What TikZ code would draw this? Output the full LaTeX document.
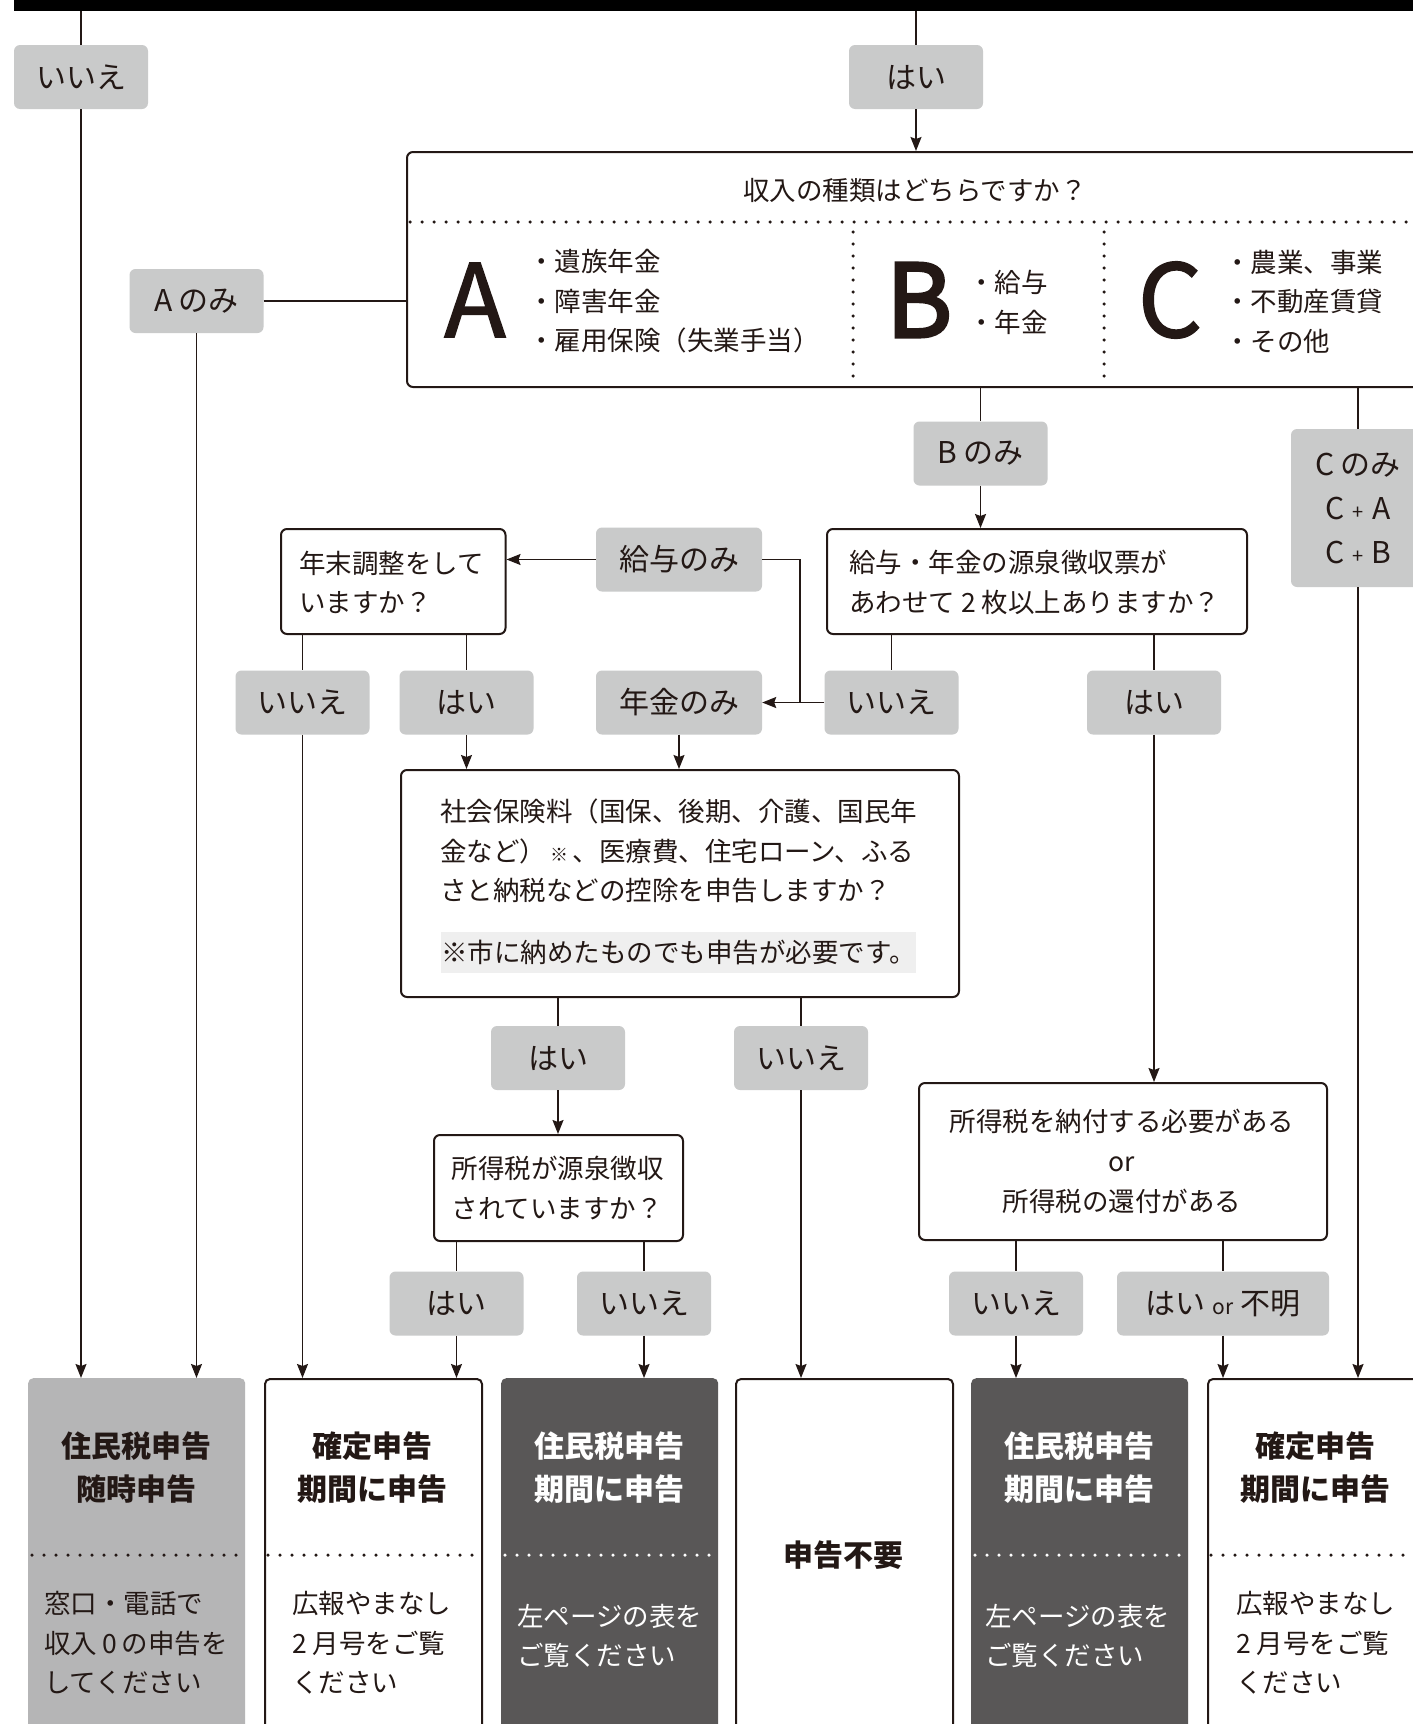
\documentclass[tikz,border=0pt]{standalone}
\usepackage{fontspec}
\setmainfont{Noto Sans CJK JP}
\newfontfamily\bigfont[FakeBold=1.5]{Noto Sans CJK JP}
\newfontfamily\bigBfont[FakeBold=3]{Noto Sans CJK JP}
\usetikzlibrary{arrows.meta}
\definecolor{lab}{HTML}{C9CACA}
\definecolor{gr}{HTML}{B5B5B6}
\definecolor{dk}{HTML}{595757}
\definecolor{notefill}{HTML}{EFEFEF}
\definecolor{ink}{HTML}{231815}
\begin{document}
\begin{tikzpicture}[x=1pt,y=-1pt,
  lbl/.style={fill=lab, rounded corners=6pt, minimum width=134pt, minimum height=64pt, inner sep=0pt, font=\fontsize{30}{40}\selectfont, text=ink},
  qbox/.style={draw=ink, line width=2pt, rounded corners=6pt, fill=white, inner sep=0pt, anchor=north west},
  rbox/.style={rounded corners=5pt, inner sep=0pt, anchor=north west, minimum width=217pt, minimum height=420pt},
  body/.style={font=\fontsize{26.5}{39.5}\selectfont, align=left, inner sep=0pt, text=ink},
  rtitle/.style={font=\fontsize{30}{43}\selectfont\bfseries, align=center, inner sep=0pt},
  big/.style={inner sep=0pt, font=\bigfont\fontsize{101}{101}\selectfont, text=ink},
  conn/.style={draw=ink, line width=1.6pt},
  arr/.style={conn, -{Stealth[length=14pt,width=11pt,inset=2pt]}},
  dotl/.style={line width=3.5pt, line cap=round, dash pattern=on 0pt off 12pt},
]
\useasboundingbox (0,0) rectangle (1413,1724);
\clip (0,0) rectangle (1413,1724);
\fill[white] (0,0) rectangle (1413,1724);

% top bar
\node[fill=black, anchor=north west, minimum width=1399pt, minimum height=11pt, inner sep=0pt] (bar) at (14,0) {};

% question boxes
\node[qbox, minimum width=1040pt, minimum height=235pt] (Q0) at (406,151) {};
\node[qbox, minimum width=224.5pt, minimum height=105pt] (Q1) at (280,528) {};
\node[qbox, minimum width=420pt, minimum height=105pt] (Q2) at (826,528) {};
\node[qbox, minimum width=558pt, minimum height=227pt] (Q3) at (400,769) {};
\node[qbox, minimum width=249pt, minimum height=106pt] (Q4) at (433,1134) {};
\node[qbox, minimum width=408pt, minimum height=157pt] (Q5) at (918,1082) {};

% result boxes
\node[rbox, fill=gr] (R1) at (28,1378) {};
\node[rbox, draw=ink, line width=2pt, fill=white] (R2) at (264,1378) {};
\node[rbox, fill=dk] (R3) at (501,1378) {};
\node[rbox, draw=ink, line width=2pt, fill=white] (R4) at (735,1378) {};
\node[rbox, fill=dk] (R5) at (971,1378) {};
\node[rbox, draw=ink, line width=2pt, fill=white] (R6) at (1207,1378) {};

% labels
\node[lbl] (L1) at (81,77) {いいえ};
\node[lbl] (L2) at (916,77) {はい};
\node[lbl] (L3) at (196.5,301) {A のみ};
\node[lbl] (L4) at (980.5,453.5) {B のみ};
\node[lbl, minimum height=158pt, align=center, font=\fontsize{30}{44}\selectfont] (L5) at (1358,508) {C のみ\\C\hspace{8pt}{\fontsize{20}{20}\selectfont +}\hspace{8pt}A\\C\hspace{8pt}{\fontsize{20}{20}\selectfont +}\hspace{8pt}B};
\node[lbl, minimum width=166pt] (L6) at (679,559.5) {給与のみ};
\node[lbl] (L7) at (302.5,702.5) {いいえ};
\node[lbl] (L8) at (466.5,702.5) {はい};
\node[lbl, minimum width=166pt] (L9) at (679,702.5) {年金のみ};
\node[lbl] (L10) at (891.5,702.5) {いいえ};
\node[lbl] (L11) at (1154,702.5) {はい};
\node[lbl] (L12) at (558,1058) {はい};
\node[lbl] (L13) at (801,1058) {いいえ};
\node[lbl] (L14) at (456.5,1303.5) {はい};
\node[lbl] (L15) at (644,1303.5) {いいえ};
\node[lbl] (L16) at (1016,1303.5) {いいえ};
\node[lbl, minimum width=212pt] (L17) at (1223,1303.5) {はい {\fontsize{21}{21}\selectfont or} 不明};

% texts in Q0
\node[body] (t0) at (915,190) {収入の種類はどちらですか？};
\draw[dotl, draw=ink] (410,222) -- (1413,222);
\draw[dotl, draw=ink] (853,232) -- (853,382);
\draw[dotl, draw=ink] (1104,232) -- (1104,382);
\node[big] (bigA) at (475,300) {A};
\node[body, anchor=west] (lA) at (528,301.5) {・遺族年金\\・障害年金\\・雇用保険（失業手当）};
\node[big, font=\bigBfont\fontsize{101}{101}\selectfont] (bigB) at (919,300) {B};
\node[body, anchor=west] (lB) at (968,302.5) {・給与\\・年金};
\node[big] (bigC) at (1170,300) {C};
\node[body, anchor=west] (lC) at (1224,301.5) {・農業、事業\\・不動産賃貸\\・その他};

% other question texts
\node[body, anchor=west] (t1) at (299,582.5) {年末調整をして\\いますか？};
\node[body, anchor=west] (t2) at (849,582.5) {給与・年金の源泉徴収票が\\あわせて\hspace{6pt}2\hspace{6pt}枚以上ありますか？};
\node[body, anchor=west] (t3) at (440,851) {社会保険料（国保、後期、介護、国民年\\金など）\makebox[26.5pt]{\fontsize{18}{18}\selectfont ※}、医療費、住宅ローン、ふる\\さと納税などの控除を申告しますか？};
\node[body, fill=notefill, minimum height=41pt, anchor=west] (t3n) at (441,952) {※市に納めたものでも申告が必要です。};
\node[body] (t4) at (557.5,1188) {所得税が源泉徴収\\されていますか？};
\node[body, align=center, font=\fontsize{26.5}{40}\selectfont] (t5) at (1122,1161.7) {所得税を納付する必要がある\\or\\所得税の還付がある};

% result texts
\node[rtitle, text=ink] (r1t) at (136.5,1468) {住民税申告\\随時申告};
\node[rtitle, text=ink] (r2t) at (372.5,1468) {確定申告\\期間に申告};
\node[rtitle, text=white] (r3t) at (609,1468) {住民税申告\\期間に申告};
\node[rtitle, text=ink] (r4t) at (843.5,1555) {申告不要};
\node[rtitle, text=white] (r5t) at (1079,1468) {住民税申告\\期間に申告};
\node[rtitle, text=ink] (r6t) at (1315.5,1468) {確定申告\\期間に申告};
\draw[dotl, draw=ink] (32,1555) -- (242,1555);
\draw[dotl, draw=ink] (268,1555) -- (478,1555);
\draw[dotl, draw=white] (505,1555) -- (715,1555);
\draw[dotl, draw=white] (975,1555) -- (1185,1555);
\draw[dotl, draw=ink] (1211,1555) -- (1413,1555);
\node[body, anchor=west] (r1b) at (44,1643) {窓口・電話で\\収入\hspace{5pt}0\hspace{5pt}の申告を\\してください};
\node[body, anchor=west] (r2b) at (292,1643) {広報やまなし\\2\hspace{6pt}月号をご覧\\ください};
\node[body, anchor=west, text=white] (r3b) at (517,1636) {左ページの表を\\ご覧ください};
\node[body, anchor=west, text=white] (r5b) at (985,1636) {左ページの表を\\ご覧ください};
\node[body, anchor=west] (r6b) at (1236,1643) {広報やまなし\\2\hspace{6pt}月号をご覧\\ください};

% connectors
\draw[conn] (bar.south -| L1) -- (L1.north);
\draw[arr] (L1.south) -- (L1.south |- R1.north);
\draw[conn] (bar.south -| L2) -- (L2.north);
\draw[arr] (L2.south) -- (L2.south |- Q0.north);
\draw[conn] (L3.east) -- (L3.east -| Q0.west);
\draw[arr] (L3.south) -- (L3.south |- R1.north);
\draw[conn] (Q0.south -| L4) -- (L4.north);
\draw[arr] (L4.south) -- (L4.south |- Q2.north);
\draw[conn] (Q0.south -| L5) -- (L5.north);
\draw[arr] (L5.south) -- (L5.south |- R6.north);
\draw[arr] (L6.west) -- (L6.west -| Q1.east);
\coordinate (J) at (800,702.5);
\draw[conn] (L6.east) -| (J);
\draw[arr] (L10.west) -- (L9.east);
\draw[conn] (Q2.south -| L10) -- (L10.north);
\draw[conn] (Q2.south -| L11) -- (L11.north);
\draw[arr] (L11.south) -- (L11.south |- Q5.north);
\draw[conn] (Q1.south -| L7) -- (L7.north);
\draw[conn] (Q1.south -| L8) -- (L8.north);
\draw[arr] (L7.south) -- (L7.south |- R2.north);
\draw[arr] (L8.south) -- (L8.south |- Q3.north);
\draw[arr] (L9.south) -- (L9.south |- Q3.north);
\draw[conn] (Q3.south -| L12) -- (L12.north);
\draw[conn] (Q3.south -| L13) -- (L13.north);
\draw[arr] (L12.south) -- (L12.south |- Q4.north);
\draw[arr] (L13.south) -- (L13.south |- R4.north);
\draw[conn] (Q4.south -| L14) -- (L14.north);
\draw[conn] (Q4.south -| L15) -- (L15.north);
\draw[arr] (L14.south) -- (L14.south |- R2.north);
\draw[arr] (L15.south) -- (L15.south |- R3.north);
\draw[conn] (Q5.south -| L16) -- (L16.north);
\draw[conn] (Q5.south -| L17) -- (L17.north);
\draw[arr] (L16.south) -- (L16.south |- R5.north);
\draw[arr] (L17.south) -- (L17.south |- R6.north);
\end{tikzpicture}
\end{document}
